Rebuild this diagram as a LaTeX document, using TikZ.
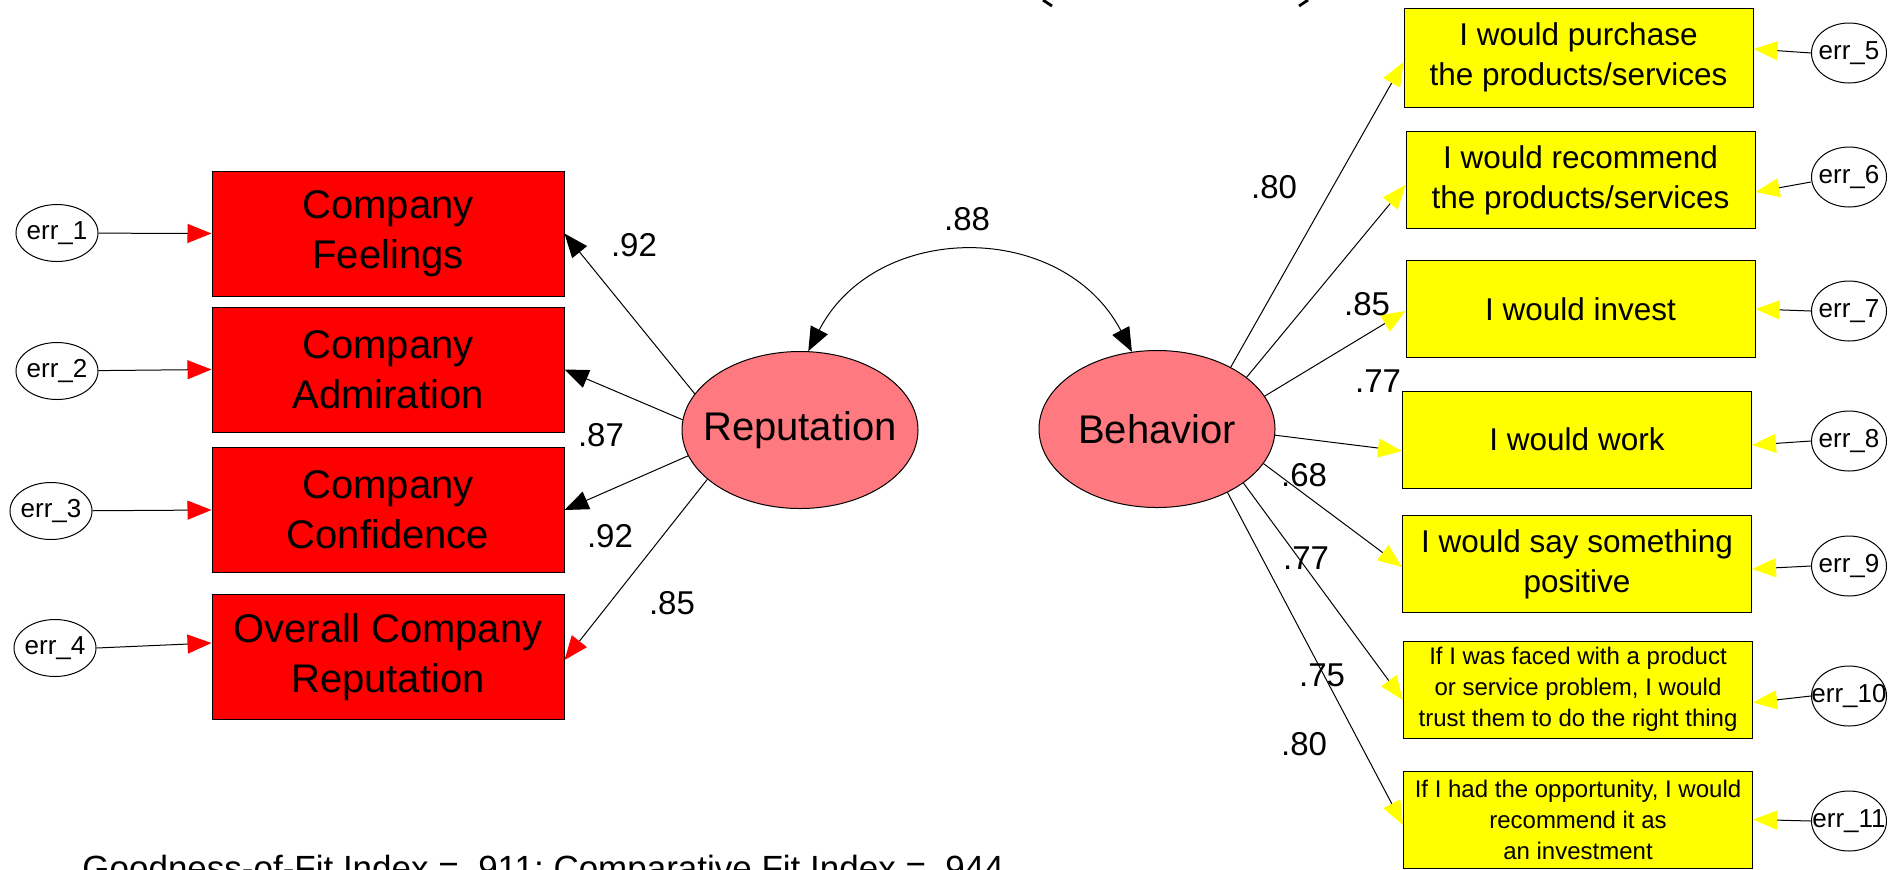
\documentclass[tikz,border=0pt]{standalone}
\usepackage{fontspec}
\setmainfont{Liberation Sans}
\usetikzlibrary{shapes.geometric,arrows.meta,calc}
\definecolor{latpink}{RGB}{255,122,128}
\definecolor{boxred}{RGB}{255,0,0}
\definecolor{boxyel}{RGB}{255,255,0}
\tikzset{
  ln/.style={line width=0.5pt, black},
  errlab/.style={font=\fontsize{13}{15}\selectfont, inner sep=0pt},
  latlab/.style={font=\fontsize{20}{24}\selectfont, inner sep=0pt},
  lerr/.style={ellipse, draw, fill=white, line width=0.5pt, minimum width=41pt, minimum height=28.5pt, inner sep=0pt, label={[errlab]center:#1}},
  rerr/.style={ellipse, draw, fill=white, line width=0.5pt, minimum width=37.5pt, minimum height=30pt, inner sep=0pt, label={[errlab]center:#1}},
  lat/.style={ellipse, draw, fill=latpink, line width=0.5pt, minimum width=118pt, minimum height=78.5pt, inner sep=0pt, label={[latlab]center:#1}},
  lbox/.style={rectangle, draw, fill=boxred, line width=0.5pt, minimum width=176pt, minimum height=62.5pt, inner sep=0pt, align=center, font=\fontsize{20}{25}\selectfont},
  rbox/.style={rectangle, draw, fill=boxyel, line width=0.5pt, minimum width=174.5pt, minimum height=48.5pt, inner sep=0pt, align=center, font=\fontsize{15.75}{20}\selectfont},
  smalltext/.style={font=\fontsize{12}{15.5}\selectfont},
  coef/.style={font=\fontsize{16.5}{18}\selectfont, inner sep=0pt},
  blacktip/.style={-{Triangle[length=12pt,width=9.5pt]}},
  redtip/.style={-{Triangle[length=12pt,width=9.5pt,color=boxred]}},
  yeltip/.style={-{Triangle[length=12pt,width=9.5pt,color=boxyel]}},
  bothtip/.style={{Triangle[length=12pt,width=9.5pt]}-{Triangle[length=12pt,width=9.5pt]}}
}
\begin{document}
\begin{tikzpicture}[x=0.5pt,y=-0.5pt]
\useasboundingbox (0,0) rectangle (1899,869);
\fill[white] (0,0) rectangle (1899,869);

% partially visible title parentheses (tails only)
\draw[line width=1.4pt] (1043,0) -- (1052,6);
\draw[line width=1.4pt] (1308,0) -- (1299,6);

% left indicators
\node[lbox] (b1) at (388,233.5) {Company\\Feelings};
\node[lbox] (b2) at (388,369.5) {Company\\Admiration};
\node[lbox] (b3) at (388,510) {Company\\Confidence};
\node[lbox] (b4) at (388,657) {Overall Company\\Reputation};

\node[lerr={err\_1}] (e1) at (57,233) {};
\node[lerr={err\_2}] (e2) at (57,371) {};
\node[lerr={err\_3}] (e3) at (51,511) {};
\node[lerr={err\_4}] (e4) at (55,648) {};

% latent variables
\node[lat={Reputation}] (rep) at (800,430) {};
\node[lat={Behavior}] (beh) at (1157,429) {};

% right indicators
\node[rbox, minimum height=49.5pt] (b5) at (1578.5,57.5) {I would purchase\\the products/services};
\node[rbox] (b6) at (1580.5,180) {I would recommend\\the products/services};
\node[rbox] (b7) at (1580.5,309) {I would invest};
\node[rbox] (b8) at (1577,439.5) {I would work};
\node[rbox] (b9) at (1577,564) {I would say something\\positive};
\node[rbox, smalltext] (b10) at (1578,689.5) {If I was faced with a product\\or service problem, I would\\trust them to do the right thing};
\node[rbox, smalltext] (b11) at (1578,819.5) {If I had the opportunity, I would\\recommend it as\\an investment};

\node[rerr={err\_5}] (e5) at (1849,53) {};
\node[rerr={err\_6}] (e6) at (1849,177) {};
\node[rerr={err\_7}] (e7) at (1849,311) {};
\node[rerr={err\_8}] (e8) at (1849,441) {};
\node[rerr={err\_9}] (e9) at (1849,566) {};
\node[rerr={err\_10}] (e10) at (1849,696) {};
\node[rerr={err\_11}] (e11) at (1849,821) {};

% error arrows (left)
\draw[ln,redtip] (e1) -- (b1.west);
\draw[ln,redtip] (e2) -- (b2.west);
\draw[ln,redtip] (e3) -- (b3.west);
\draw[ln,redtip] (e4.east) -- ($(b4.west)+(0,-14)$);

% loadings Reputation
\draw[ln,blacktip] (rep.161) -- (b1.east);
\draw[ln,blacktip] (rep.175) -- (b2.east);
\draw[ln,blacktip] (rep.193) -- (b3.east);
\draw[ln,redtip] (rep.208) -- ($(b4.east)+(0,3)$);

% covariance
\draw[ln,bothtip] (rep.84) .. controls (876,220) and (1063,220) .. (beh.108);

% loadings Behavior
\draw[ln,yeltip] (beh.40) -- ($(b5.west)+(0,4.5)$);
\draw[ln,yeltip] (beh.30) -- ($(b6.west)+(0,5)$);
\draw[ln,yeltip] (beh.17) -- ($(b7.west)+(0,2)$);
\draw[ln,yeltip] (beh.357) -- ($(b8.west)+(0,11.5)$);
\draw[ln,yeltip] (beh.342) -- ($(b9.west)+(0,3)$);
\draw[ln,yeltip] (beh.328) -- ($(b10.west)+(0,10.5)$);
\draw[ln,yeltip] (beh.318) -- ($(b11.west)+(0,5.5)$);

% error arrows (right)
\draw[ln,yeltip] (e5.west) -- ($(b5.east)+(0,-8.5)$);
\draw[ln,yeltip] ($(e6.west)+(0,5)$) -- ($(b6.east)+(0,12)$);
\draw[ln,yeltip] (e7.west) -- (b7.east);
\draw[ln,yeltip] (e8.west) -- ($(b8.east)+(0,5.5)$);
\draw[ln,yeltip] (e9.west) -- ($(b9.east)+(0,5)$);
\draw[ln,yeltip] (e10.west) -- ($(b10.east)+(0,13)$);
\draw[ln,yeltip] (e11.west) -- (b11.east);

% coefficients
\node[coef] (c1) at (634,245) {.92};
\node[coef] (c2) at (601,435) {.87};
\node[coef] (c3) at (610,536) {.92};
\node[coef] (c4) at (672,603) {.85};
\node[coef] (c5) at (967,219) {.88};
\node[coef] (c6) at (1274,187) {.80};
\node[coef] (c7) at (1367,304) {.85};
\node[coef] (c8) at (1378,381) {.77};
\node[coef] (c9) at (1304,475) {.68};
\node[coef] (c10) at (1306,558) {.77};
\node[coef] (c11) at (1322,675) {.75};
\node[coef] (c12) at (1304,744) {.80};

% fit indices (cut at bottom edge)
\node[anchor=base west, inner sep=0pt, font=\fontsize{17.5}{20}\selectfont] (fit) at (82,880) {Goodness-of-Fit Index = .911; Comparative Fit Index = .944};
\end{tikzpicture}
\end{document}
